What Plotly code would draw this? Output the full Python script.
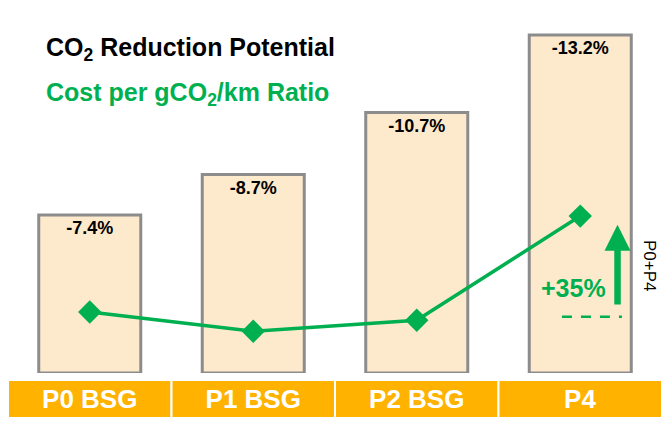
import plotly.graph_objects as go

categories = ["P0 BSG", "P1 BSG", "P2 BSG", "P4"]
co2_reduction = [-7.4, -8.7, -10.7, -13.2]
bar_labels = ["-7.4%", "-8.7%", "-10.7%", "-13.2%"]
cost_ratio = [1.00, 0.93, 0.97, 1.35]
p4_gain_label = "+35%"

BASE = 2.3
GREEN = "#00B050"
FONT = "Liberation Sans, Arial, sans-serif"

W, H = 654, 410          # figure size (page body adds an 8px offset)
OFF = 8

mag = [abs(v) for v in co2_reduction]


def px(X):   # screen x -> paper
    return (X - OFF) / W


def py(Y):   # screen y -> paper
    return (H + OFF - Y) / H


fig = go.Figure()

# bottom category band
fig.add_trace(go.Bar(
    x=categories, y=[1] * len(categories), yaxis="y3",
    width=1.0, marker=dict(color="#FFB300", line=dict(color="white", width=2)),
    text=["<b>%s</b>" % c for c in categories], textposition="inside",
    insidetextanchor="middle", textangle=0,
    textfont=dict(color="white", size=26, family=FONT),
    hoverinfo="skip", showlegend=False,
))

# CO2 reduction bars
fig.add_trace(go.Bar(
    x=categories, y=[m - BASE for m in mag], base=BASE, yaxis="y",
    width=0.624,
    marker=dict(color="#FDE9CC", line=dict(color="#8C8C8C", width=3)),
    text=["<b>%s</b>" % t for t in bar_labels], textposition="inside",
    insidetextanchor="end", textangle=0,
    textfont=dict(color="black", size=18, family=FONT),
    showlegend=False,
))

# cost ratio line
fig.add_trace(go.Scatter(
    x=categories, y=cost_ratio, yaxis="y2", mode="lines+markers",
    line=dict(color=GREEN, width=3.5),
    marker=dict(symbol="diamond", size=18, color=GREEN),
    showlegend=False,
))

# dashed reference at P0 cost level
fig.add_shape(type="line", xref="x", yref="y2",
              x0=2.888, x1=3.255, y0=cost_ratio[0] - 0.017, y1=cost_ratio[0] - 0.017,
              line=dict(color=GREEN, width=2.5, dash="10px,9px"))

# arrow P0 -> P4
fig.add_annotation(x=3.228, y=cost_ratio[3] - 0.032, xref="x", yref="y2",
                   ax=3.228, ay=cost_ratio[0] + 0.022, axref="x", ayref="y2",
                   text="", showarrow=True, arrowhead=2, arrowsize=0.8,
                   arrowwidth=6.5, arrowcolor=GREEN)

fig.add_annotation(x=2.956, y=cost_ratio[0] + 0.088, xref="x", yref="y2",
                   text="<b>%s</b>" % p4_gain_label, showarrow=False,
                   font=dict(color=GREEN, size=25, family=FONT))

fig.add_annotation(x=px(650), y=py(266), xref="paper", yref="paper",
                   xanchor="center", yanchor="middle",
                   text="P0+P4", textangle=90, showarrow=False,
                   font=dict(color="black", size=17, family=FONT))

# titles
fig.add_annotation(x=px(44), y=py(49), xref="paper", yref="paper",
                   xanchor="left", yanchor="middle",
                   text="<b>CO<sub>2</sub> Reduction Potential</b>", showarrow=False,
                   font=dict(color="black", size=25, family=FONT))
fig.add_annotation(x=px(44), y=py(94), xref="paper", yref="paper",
                   xanchor="left", yanchor="middle",
                   text="<b>Cost per gCO<sub>2</sub>/km Ratio</b>", showarrow=False,
                   font=dict(color=GREEN, size=25, family=FONT))

dom_bottom = py(373)
fig.update_layout(
    width=W, height=H,
    margin=dict(l=0, r=0, t=0, b=0),
    paper_bgcolor="white", plot_bgcolor="rgba(0,0,0,0)",
    barmode="overlay",
    xaxis=dict(type="category", range=[-0.5, 3.5], showticklabels=False,
               showgrid=False, zeroline=False, showline=False),
    yaxis=dict(domain=[dom_bottom, 1], range=[BASE, BASE + (373 - OFF) / 31],
               visible=False),
    yaxis2=dict(domain=[dom_bottom, 1], overlaying="y",
                range=[1 - 61 / 274, 1 + (312 - OFF) / 274], visible=False),
    yaxis3=dict(domain=[0, py(380)], range=[0, 1], visible=False),
)

fig.write_html("out.html")
